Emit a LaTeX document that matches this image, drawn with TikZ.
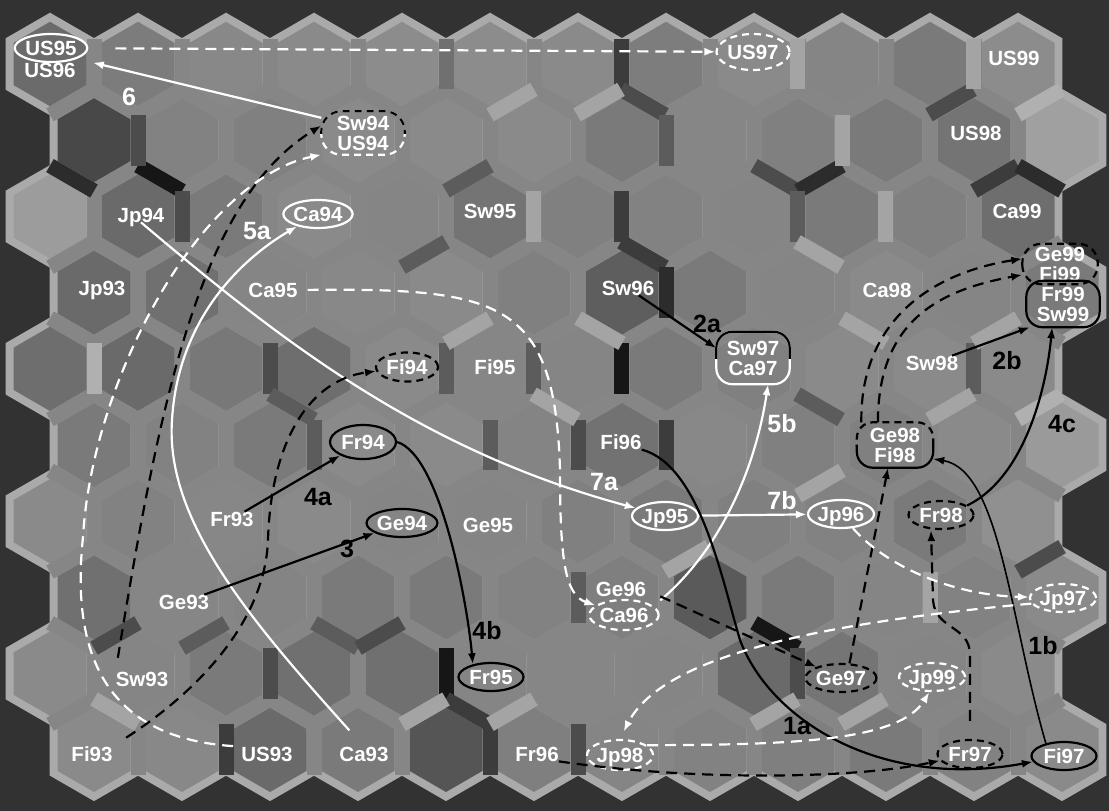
\documentclass[tikz,border=0pt]{standalone}
\usepackage{fontspec}
\setmainfont{Liberation Sans}
\usetikzlibrary{shapes.geometric,arrows.meta}
\definecolor{framedark}{RGB}{50,50,50}
\definecolor{rimgray}{RGB}{170,170,170}
\definecolor{bargray}{RGB}{134,134,134}
\definecolor{bk1}{RGB}{22,22,22}
\definecolor{bk2}{RGB}{44,44,44}
\definecolor{bk3}{RGB}{60,60,60}
\definecolor{bk4}{RGB}{76,76,76}
\definecolor{bk5}{RGB}{92,92,92}
\definecolor{mid1}{RGB}{112,112,112}
\definecolor{lt1}{RGB}{164,164,164}
\definecolor{lt2}{RGB}{176,176,176}
\newcommand{\labfont}{\bfseries\fontsize{20.5}{20}\selectfont}
\newcommand{\tagfont}{\bfseries\fontsize{25}{25}\selectfont}
\newcommand{\hexrow}[3]{%
  \foreach \g [count=\k from 0] in {#3}{
    \definecolor{cellgray}{RGB}{\g,\g,\g}
    \fill[cellgray] (#2+88*\k,#1) +(0,-42.2) -- +(36.5,-21.1) -- +(36.5,21.1) -- +(0,42.2) -- +(-36.5,21.1) -- +(-36.5,-21.1) -- cycle;
  }}
\tikzset{
  lab/.style={text=white, font=\labfont, inner sep=0pt, text depth=0pt},
  pair/.style={text=white, font=\labfont, inner sep=0pt, align=center},
  ring/.style={lab, ellipse, minimum width=65pt, minimum height=28pt, line width=2.2pt},
  wring/.style={ring, draw=white},
  bring/.style={ring, draw=black},
  wdring/.style={wring, dash pattern=on 7pt off 5pt},
  bdring/.style={bring, dash pattern=on 7pt off 5pt},
  tagw/.style={text=white, font=\tagfont, inner sep=0pt},
  tagb/.style={text=black, font=\tagfont, inner sep=0pt},
  wline/.style={white, line width=2.2pt},
  bline/.style={black, line width=2.2pt},
  wdash/.style={wline, dash pattern=on 11pt off 7pt},
  bdash/.style={bline, dash pattern=on 11pt off 7pt},
  edgebar/.style={line width=15pt}
}

\begin{document}
\begin{tikzpicture}[x=1pt, y=-1pt, >={Latex[length=11pt,width=8pt]}]
  \useasboundingbox (0,0) rectangle (1109,811);
  \fill[framedark] (0,0) rectangle (1109,811);

  \foreach \cy in {64,216.4,368.8,521.2,673.6}
    \foreach \k in {0,...,11}
      \fill[rimgray] (50+88*\k,\cy) +(0,-51.3) -- +(44.4,-25.7) -- +(44.4,25.7) -- +(0,51.3) -- +(-44.4,25.7) -- +(-44.4,-25.7) -- cycle;
  \foreach \cy in {140.2,292.6,445,597.4,749.8}
    \foreach \k in {0,...,11}
      \fill[rimgray] (94+88*\k,\cy) +(0,-51.3) -- +(44.4,-25.7) -- +(44.4,25.7) -- +(0,51.3) -- +(-44.4,25.7) -- +(-44.4,-25.7) -- cycle;

  \hexrow{64}{50}{107,124,136,138,140,140,138,125,138,133,122,140}
  \hexrow{140.2}{94}{72,130,128,138,138,138,122,134,128,122,116,160}
  \hexrow{216.4}{50}{156,106,122,138,133,116,128,130,133,122,128,110}
  \hexrow{292.6}{94}{106,112,133,136,138,128,94,122,133,138,133,122}
  \hexrow{368.8}{50}{110,106,120,110,138,134,133,122,128,138,138,138}
  \hexrow{445}{94}{122,130,122,138,138,132,114,136,128,128,138,154}
  \hexrow{521.2}{50}{138,130,135,138,133,133,128,122,128,130,122,144}
  \hexrow{597.4}{94}{112,134,132,122,122,130,127,90,122,133,130,138}
  \hexrow{673.6}{50}{138,133,122,112,112,133,134,133,106,117,133,138}
  \hexrow{749.8}{94}{138,136,106,122,85,127,133,130,127,122,130,138}

  \foreach \cy/\xo in {64/94,140.2/138,216.4/94,292.6/138,368.8/94,445/138,521.2/94,597.4/138,673.6/94,749.8/138}
    \foreach \k in {0,...,10}
      \draw[edgebar,bargray] (\xo+88*\k,\cy-25.4) -- (\xo+88*\k,\cy+25.4);
  \foreach \cy/\p in {64/0,140.2/1,216.4/0,292.6/1,368.8/0,445/1,521.2/0,597.4/1,673.6/0}{
    \foreach \j in {0,...,22}{
      \pgfmathsetmacro\ya{mod(\p+\j,2)==0 ? 50.8 : 25.4}
      \pgfmathsetmacro\yb{76.2-\ya}
      \draw[edgebar,bargray] (50+44*\j,\cy+\ya) -- (94+44*\j,\cy+\yb);
    }}

  \draw[edgebar,bk2] (50,165.6) -- (94,191);
  \draw[edgebar,bk1] (138,165.6) -- (182,191);
  \draw[edgebar,bk3] (621,38.6) -- (621,89.4);
  \draw[edgebar,bk4] (621,89.4) -- (665,114.8);
  \draw[edgebar,bk3] (621,191) -- (621,241.8);
  \draw[edgebar,bk3] (621,241.8) -- (665,267.2);
  \draw[edgebar,bk1] (621,343.4) -- (621,394.2);
  \draw[edgebar,bk2] (666,267.2) -- (666,318);
  \draw[edgebar,bk3] (666,419.6) -- (666,470.4);
  \draw[edgebar,bk4] (578,419.6) -- (578,470.4);
  \draw[edgebar,bk5] (490,419.6) -- (490,470.4);
  \draw[edgebar,bk5] (533,343.4) -- (533,394.2);
  \draw[edgebar,bk5] (446,343.4) -- (446,394.2);
  \draw[edgebar,bk1] (446,648.2) -- (446,699);
  \draw[edgebar,bk3] (490,724.4) -- (490,775.2);
  \draw[edgebar,bk1] (754,622.8) -- (798,648.2);
  \draw[edgebar,bk3] (1018,165.6) -- (974,191);
  \draw[edgebar,bk2] (1018,165.6) -- (1062,191);
  \draw[edgebar,bk4] (754,165.6) -- (798,191);
  \draw[edgebar,bk2] (842,165.6) -- (798,191);
  \draw[edgebar,bk4] (973,89.4) -- (929,114.8);
  \draw[edgebar,bk4] (270,343.4) -- (270,394.2);
  \draw[edgebar,bk5] (270,394.2) -- (314,419.6);
  \draw[edgebar,bk5] (314,419.6) -- (314,470.4);
  \draw[edgebar,bk4] (138,114.8) -- (138,165.6);
  \draw[edgebar,bk4] (182,191) -- (182,241.8);
  \draw[edgebar,mid1] (446,38.6) -- (446,89.4);
  \draw[edgebar,bk5] (666,114.8) -- (666,165.6);
  \draw[edgebar,bk5] (490,165.6) -- (446,191);
  \draw[edgebar,bk5] (446,241.8) -- (402,267.2);
  \draw[edgebar,bk5] (797,191) -- (797,241.8);
  \draw[edgebar,bk5] (797,394.2) -- (841,419.6);
  \draw[edgebar,bk5] (973,343.4) -- (973,394.2);
  \draw[edgebar,bk4] (138,622.8) -- (94,648.2);
  \draw[edgebar,bk4] (270,648.2) -- (270,699);
  \draw[edgebar,bk3] (226,724.4) -- (226,775.2);
  \draw[edgebar,bk5] (226,622.8) -- (182,648.2);
  \draw[edgebar,bk5] (314,622.8) -- (358,648.2);
  \draw[edgebar,bk4] (402,622.8) -- (358,648.2);
  \draw[edgebar,bk3] (446,699) -- (490,724.4);
  \draw[edgebar,bk4] (578,724.4) -- (578,775.2);
  \draw[edgebar,bk5] (578,572) -- (578,622.8);
  \draw[edgebar,bk4] (1062,546.6) -- (1018,572);
  \draw[edgebar,bk4] (797,648.2) -- (797,699);
  \draw[edgebar,lt2] (94,343.4) -- (94,394.2);
  \draw[edgebar,lt1] (534,89.4) -- (490,114.8);
  \draw[edgebar,lt1] (621,89.4) -- (577,114.8);
  \draw[edgebar,lt1] (797,38.6) -- (797,89.4);
  \draw[edgebar,lt1] (973,38.6) -- (973,89.4);
  \draw[edgebar,lt2] (1062,89.4) -- (1018,114.8);
  \draw[edgebar,lt1] (842,114.8) -- (842,165.6);
  \draw[edgebar,lt1] (885,191) -- (885,241.8);
  \draw[edgebar,lt1] (797,241.8) -- (841,267.2);
  \draw[edgebar,lt1] (533,191) -- (533,241.8);
  \draw[edgebar,lt1] (490,318) -- (446,343.4);
  \draw[edgebar,lt1] (533,394.2) -- (577,419.6);
  \draw[edgebar,lt1] (578,318) -- (622,343.4);
  \draw[edgebar,lt1] (842,318) -- (886,343.4);
  \draw[edgebar,lt1] (1018,318) -- (974,343.4);
  \draw[edgebar,lt2] (1062,394.2) -- (1018,419.6);
  \draw[edgebar,lt1] (973,394.2) -- (929,419.6);
  \draw[edgebar,lt1] (842,470.4) -- (798,495.8);
  \draw[edgebar,lt1] (94,699) -- (138,724.4);
  \draw[edgebar,lt1] (446,699) -- (402,724.4);
  \draw[edgebar,lt1] (534,699) -- (490,724.4);
  \draw[edgebar,lt1] (709,546.6) -- (665,572);
  \draw[edgebar,lt1] (797,699) -- (753,724.4);
  \draw[edgebar,lt1] (885,699) -- (841,724.4);
  \draw[edgebar,lt1] (930,572) -- (930,622.8);

  \node[wring] (us95) at (51,48) {US95};
  \node[lab] (us96) at (50,70) {US96};
  \node[wdring, minimum width=73pt, minimum height=36pt] (us97) at (753,52) {US97};
  \node[lab] (us99) at (1014,58) {US99};
  \node[pair, minimum width=83pt, minimum height=43pt] (sw94) at (363,133) {Sw94\\US94};
  \node[lab] (us98) at (976,133) {US98};
  \node[lab] (jp94) at (141,215) {Jp94};
  \node[wring] (ca94) at (318,214) {Ca94};
  \node[lab] (sw95) at (490,211) {Sw95};
  \node[lab] (ca99) at (1017,211) {Ca99};
  \node[lab] (jp93) at (102,288) {Jp93};
  \node[lab] (ca95) at (273,290) {Ca95};
  \node[lab] (sw96) at (628,288) {Sw96};
  \node[lab] (ca98) at (887,290) {Ca98};
  \node[pair, minimum width=75pt, minimum height=40pt] (ge99) at (1060,264) {Ge99\\Fi99};
  \node[pair, minimum width=73pt, minimum height=46pt] (fr99) at (1063,304) {Fr99\\Sw99};
  \node[bdring, minimum width=62pt, minimum height=29pt] (fi94) at (407,367) {Fi94};
  \node[lab] (fi95) at (495,367) {Fi95};
  \node[pair, minimum width=73pt, minimum height=52pt] (sw97) at (753,358) {Sw97\\Ca97};
  \node[lab] (sw98) at (932,363) {Sw98};
  \node[bring, minimum width=66pt, minimum height=34pt] (fr94) at (363,442) {Fr94};
  \node[lab] (fi96) at (621,442) {Fi96};
  \node[pair, minimum width=76pt, minimum height=45pt] (ge98) at (895,445) {Ge98\\Fi98};
  \node[lab] (fr93) at (232,519) {Fr93};
  \node[bring] (ge94) at (402,523) {Ge94};
  \node[lab] (ge95) at (488,525) {Ge95};
  \node[wring] (jp95) at (665,516) {Jp95};
  \node[wring] (jp96) at (841,514) {Jp96};
  \node[bdring] (fr98) at (941,515) {Fr98};
  \node[lab] (ge93) at (184,602) {Ge93};
  \node[lab] (ge96) at (621,589) {Ge96};
  \node[wdring, minimum height=30pt] (ca96) at (624,615) {Ca96};
  \node[wdring, minimum width=64pt] (jp97) at (1063,598) {Jp97};
  \node[lab] (sw93) at (142,679) {Sw93};
  \node[bring] (fr95) at (491,677) {Fr95};
  \node[bdring] (ge97) at (841,678) {Ge97};
  \node[wdring] (jp99) at (932,677) {Jp99};
  \node[lab] (fi93) at (92,754) {Fi93};
  \node[lab] (us93) at (267,754) {US93};
  \node[lab] (ca93) at (364,754) {Ca93};
  \node[lab] (fr96) at (537,754) {Fr96};
  \node[wdring, minimum height=30pt] (jp98) at (620,755) {Jp98};
  \node[bdring] (fr97) at (970,754) {Fr97};
  \node[bring] (fi97) at (1064,756) {Fi97};

  \draw[wline, dash pattern=on 7pt off 5pt, rounded corners=20pt] (sw94.south west) rectangle (sw94.north east);
  \begin{scope}
    \clip ([xshift=-6pt]sw94.west) rectangle ([xshift=6pt,yshift=6pt]sw94.north east);
    \draw[bline, dash pattern=on 7pt off 5pt, rounded corners=20pt] (sw94.south west) rectangle (sw94.north east);
  \end{scope}
  \draw[wline, rounded corners=16pt] (sw97.south west) rectangle (sw97.north east);
  \begin{scope}
    \clip ([xshift=-6pt]sw97.west) rectangle ([xshift=6pt,yshift=6pt]sw97.north east);
    \draw[bline, rounded corners=16pt] (sw97.south west) rectangle (sw97.north east);
  \end{scope}
  \begin{scope}
    \clip ([xshift=-6pt]ge98.west) rectangle ([xshift=6pt,yshift=6pt]ge98.north east);
    \draw[bline, dash pattern=on 7pt off 5pt, rounded corners=16pt] (ge98.south west) rectangle (ge98.north east);
  \end{scope}
  \begin{scope}
    \clip ([xshift=-6pt]ge98.west) rectangle ([xshift=6pt,yshift=-6pt]ge98.south east);
    \draw[bline, rounded corners=16pt] (ge98.south west) rectangle (ge98.north east);
  \end{scope}
  \draw[bline, dash pattern=on 7pt off 5pt, rounded corners=19pt] (ge99.south west) rectangle (ge99.north east);
  \draw[bline, rounded corners=16pt] (fr99.south west) rectangle (fr99.north east);

  \draw[wdash,->,shorten <=27pt] (us95) -- (us97);
  \draw[wline,->] (sw94.160) -- ([xshift=17pt]us96.north east);
  \draw[bdash,->,shorten <=14pt] (sw93.north west) .. controls (160,400) and (200,200) .. (sw94.170);
  \draw[wdash,->,shorten <=8pt] (us93.north west) .. controls (110,738) and (70,660) .. (83,537) .. controls (92,380) and (200,180) .. (sw94.south west);
  \draw[wline,->,shorten <=22pt] (ca93.north) .. controls (250,620) and (165,520) .. (172,420) .. controls (178,320) and (240,260) .. (ca94);
  \draw[wline,->] (jp94.south) .. controls (280,340) and (420,450) .. (jp95);
  \draw[wline,->] (jp95) -- (jp96);
  \draw[wdash,->,shorten <=10pt] (ca95.east) .. controls (500,288) and (555,300) .. (560,470) .. controls (560,560) and (565,595) .. (ca96);
  \draw[wline,->] ([xshift=14pt,yshift=-4pt]ge96.south east) .. controls (720,550) and (755,470) .. (sw97.-60);
  \draw[bline,->] (sw96) -- (sw97.165);
  \draw[bline,->] (sw98) -- (fr99.-145);
  \draw[bline,->] (fr98.20) .. controls (1020,480) and (1045,400) .. (fr99.-115);
  \draw[bline,->] (fr93) -- (fr94);
  \draw[bline,->] (ge93) -- (ge94);
  \draw[bline,->] (fr94.east) .. controls (440,455) and (467,600) .. (fr95.145);
  \draw[bline,->] (fi96.south east) .. controls (700,465) and (722,580) .. (740,640) .. controls (770,720) and (880,790) .. (fi97);
  \draw[bline,line width=1.6pt,->] (fi97.145) .. controls (1010,620) and (1000,470) .. (ge98.-20);
  \draw[bdash,->] ([xshift=14pt]ge96.south east) -- (ge97);
  \draw[bdash,->] (ge97.60) -- (ge98.-107);
  \draw[bdash,->] (ge98.146) .. controls (860,330) and (920,275) .. (ge99.172);
  \draw[bdash,->] (ge98.127) .. controls (878,320) and (940,290) .. (ge99.-164);
  \draw[bdash,->] (fr96.south east) .. controls (700,782) and (860,778) .. (fr97);
  \draw[bdash,->,shorten <=18pt] (fr97.north) -- (970,655) .. controls (970,625) and (935,630) .. (933,600) -- ([xshift=-10pt]fr98.south);
  \draw[wdash,->] (jp96.-50) .. controls (885,565) and (950,595) .. (jp97);
  \draw[wdash,->,shorten >=8pt] (jp97.190) .. controls (800,625) and (660,660) .. (jp98.north);
  \draw[wdash,->] (jp98.20) .. controls (800,745) and (900,740) .. (jp99.-100);
  \draw[bdash,->,shorten <=16pt] (fi93.north east) .. controls (200,690) and (265,620) .. (268,540) .. controls (271,440) and (310,380) .. (fi94);

  \node[tagw] (t6) at (129,97) {6};
  \node[tagw] (t5a) at (257,231) {5a};
  \node[tagw] (t7a) at (604,482) {7a};
  \node[tagw] (t7b) at (782,501) {7b};
  \node[tagw] (t5b) at (782,424) {5b};
  \node[tagb] (t2a) at (707,324) {2a};
  \node[tagb] (t2b) at (1007,361) {2b};
  \node[tagb] (t4c) at (1062,424) {4c};
  \node[tagb] (t4a) at (318,497) {4a};
  \node[tagb] (t3) at (347,549) {3};
  \node[tagb] (t4b) at (487,631) {4b};
  \node[tagb] (t1a) at (797,726) {1a};
  \node[tagb] (t1b) at (1043,646) {1b};
\end{tikzpicture}
\end{document}
